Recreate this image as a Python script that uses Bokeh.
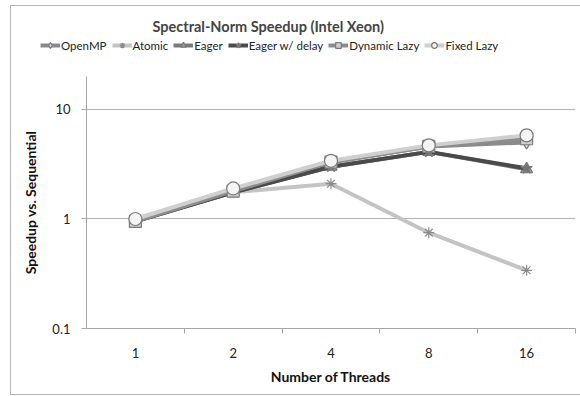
from bokeh.plotting import figure
from bokeh.layouts import column
from bokeh.models import Range1d, FixedTicker, Legend, LegendItem
from bokeh.embed import file_html
from bokeh.resources import INLINE

# Spectral-norm speedup over sequential, per thread count
threads = ["1", "2", "4", "8", "16"]
openmp = [0.97, 1.85, 3.3, 4.6, 5.0]
atomic = [0.97, 1.75, 2.1, 0.75, 0.34]
eager = [0.95, 1.75, 3.0, 4.1, 2.85]
eager_delay = [0.95, 1.75, 3.0, 4.1, 2.9]
dynamic_lazy = [0.95, 1.8, 3.3, 4.6, 5.4]
fixed_lazy = [1.0, 1.9, 3.4, 4.7, 5.8]

y_ticks = [0.1, 1, 10]
FONT = "Lato"
EDGE = "#b5b5b5"

series = [
    ("OpenMP", openmp, "#8a8a8a", "diamond", "#d9d9d9", 13),
    ("Atomic", atomic, "#c4c4c4", "asterisk", "#c4c4c4", 11),
    ("Eager", eager, "#7a7a7a", "triangle", "#9a9a9a", 12),
    ("Eager w/ delay", eager_delay, "#4a4a4a", "star", "#707070", 12),
    ("Dynamic Lazy", dynamic_lazy, "#8c8c8c", "square", "#cfcfcf", 12),
    ("Fixed Lazy", fixed_lazy, "#cfcfcf", "circle", "#f4f4f4", 13),
]

xs = [i + 0.5 for i in range(len(threads))]


def marker_edge(marker):
    return "#8a8a8a" if marker == "asterisk" else "#7a7a7a"


# ---- header: title and legend (series kept out of its visible range) ----
head = figure(width=580, height=76, output_backend="svg", toolbar_location=None,
              x_range=Range1d(-10, -9), y_range=Range1d(0, 1),
              x_axis_location=None, y_axis_location=None,
              min_border_left=0, min_border_right=0, min_border_top=36,
              min_border_bottom=0)
head.grid.visible = False
head.outline_line_color = None
head.background_fill_color = None
head.border_fill_color = None
head.title.text = "Spectral-Norm Speedup (Intel Xeon)"
head.title.text_font = FONT
head.title.text_font_size = "14.5px"
head.title.text_font_style = "bold"
head.title.align = "left"
head.title.offset = 112
head.title.standoff = 4
# header sits 46px further left than the plot frame below it
head.styles = {"transform": "translateX(-46px)"}

items = []
for name, vals, col, marker, fill, size in series:
    ln = head.line(xs, vals, line_color=col, line_width=4)
    mk = head.scatter(xs, vals, marker=marker, size=size, fill_color=fill,
                      line_color=marker_edge(marker), line_width=1.2)
    items.append(LegendItem(label=name, renderers=[ln, mk]))

legend = Legend(items=items, orientation="horizontal", location=(0, 24),
                glyph_width=20, glyph_height=14, label_standoff=1, spacing=5,
                padding=0, margin=0, border_line_color=None,
                background_fill_alpha=0, label_text_font=FONT,
                label_text_font_size="11.5px", label_text_color="#222222")
head.add_layout(legend, "center")

# ---- main chart ----
p = figure(width=580, height=320, output_backend="svg", toolbar_location=None,
           title=None, y_axis_type="log", x_range=Range1d(0, len(threads)),
           y_range=Range1d(0.1, 20), min_border_left=86, min_border_right=5,
           min_border_top=0, min_border_bottom=68)
p.outline_line_color = None
p.background_fill_color = "white"
p.border_fill_color = None

# x axis: labels centred in each category, tick marks on the boundaries
p.xaxis.ticker = FixedTicker(ticks=xs, minor_ticks=list(range(1, len(threads) + 1)))
p.xaxis.major_label_overrides = {x: t for x, t in zip(xs, threads)}
p.xaxis.major_tick_out = 0
p.xaxis.major_tick_in = 0
p.xaxis.minor_tick_out = 5
p.xaxis.minor_tick_in = 0
p.xaxis.minor_tick_line_color = "#a6a6a6"
p.xaxis.axis_line_color = "#a6a6a6"
p.xaxis.major_label_standoff = 14
p.xaxis.axis_label = "Number of Threads"
p.xaxis.axis_label_standoff = 7
p.xgrid.grid_line_color = None

p.yaxis.ticker = FixedTicker(ticks=y_ticks)
p.yaxis.major_label_overrides = {0.1: "0.1", 1: "1", 10: "10"}
p.yaxis.major_tick_out = 5
p.yaxis.major_tick_in = 0
p.yaxis.minor_tick_line_color = None
p.yaxis.major_tick_line_color = "#a6a6a6"
p.yaxis.axis_line_color = "#a6a6a6"
p.yaxis.major_label_standoff = 11
p.yaxis.axis_label = "Speedup vs. Sequential"
p.yaxis.axis_label_standoff = 10
p.ygrid.ticker = FixedTicker(ticks=y_ticks)
p.ygrid.grid_line_color = "#b3b3b3"

for ax in (p.xaxis, p.yaxis):
    ax.major_label_text_font = FONT
    ax.major_label_text_font_size = "13px"
    ax.major_label_text_color = "#222222"
    ax.axis_label_text_font = FONT
    ax.axis_label_text_font_size = "14px"
    ax.axis_label_text_font_style = "bold"
    ax.axis_label_text_color = "#111111"

for name, vals, col, marker, fill, size in series:
    p.line(xs, vals, line_color=col, line_width=4)
    p.scatter(xs, vals, marker=marker, size=size, fill_color=fill,
              line_color=marker_edge(marker), line_width=1.2)

page = column(head, p, spacing=0)
# chart-area edge drawn behind the transparent canvases
page.styles = {
    "background-color": "white",
    "background-image": (f"linear-gradient({EDGE},{EDGE}), "
                         f"linear-gradient({EDGE},{EDGE}), "
                         f"linear-gradient({EDGE},{EDGE})"),
    "background-size": "1px 390px, 575px 1px, 575px 1px",
    "background-position": "10px 5px, 10px 5px, 10px 394px",
    "background-repeat": "no-repeat",
}

open("out.html", "w").write(file_html(page, INLINE))
